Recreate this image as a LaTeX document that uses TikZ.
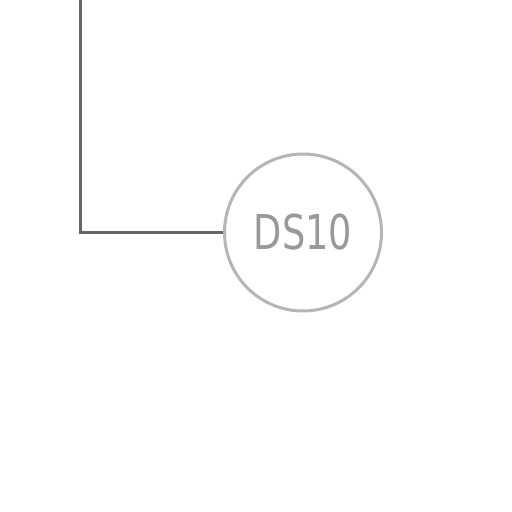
\documentclass[tikz,border=0pt]{standalone}
\usepackage{fontspec}
\setmainfont{DejaVu Sans Condensed}
\newfontfamily\dsfont[FakeStretch=0.85]{DejaVu Sans Condensed}
\definecolor{linegray}{HTML}{666666}
\definecolor{circgray}{HTML}{B5B5B5}
\definecolor{textgray}{HTML}{999999}
\begin{document}
\begin{tikzpicture}[x=1pt,y=-1pt,
  conn/.style={draw=linegray,line width=3pt},
  dsnode/.style={circle,draw=circgray,line width=3pt,minimum size=157pt,inner sep=0pt,text=textgray,font=\dsfont\fontsize{48}{50}\selectfont}]
\useasboundingbox (0,0) rectangle (512,512);
\coordinate (top) at (80.5,0);
\coordinate (corner) at (80.5,232.5);
\node[dsnode] (ds) at (303,232.5) {DS10};
\draw[conn] (top) -- (corner) -- (ds.west);
\end{tikzpicture}
\end{document}
